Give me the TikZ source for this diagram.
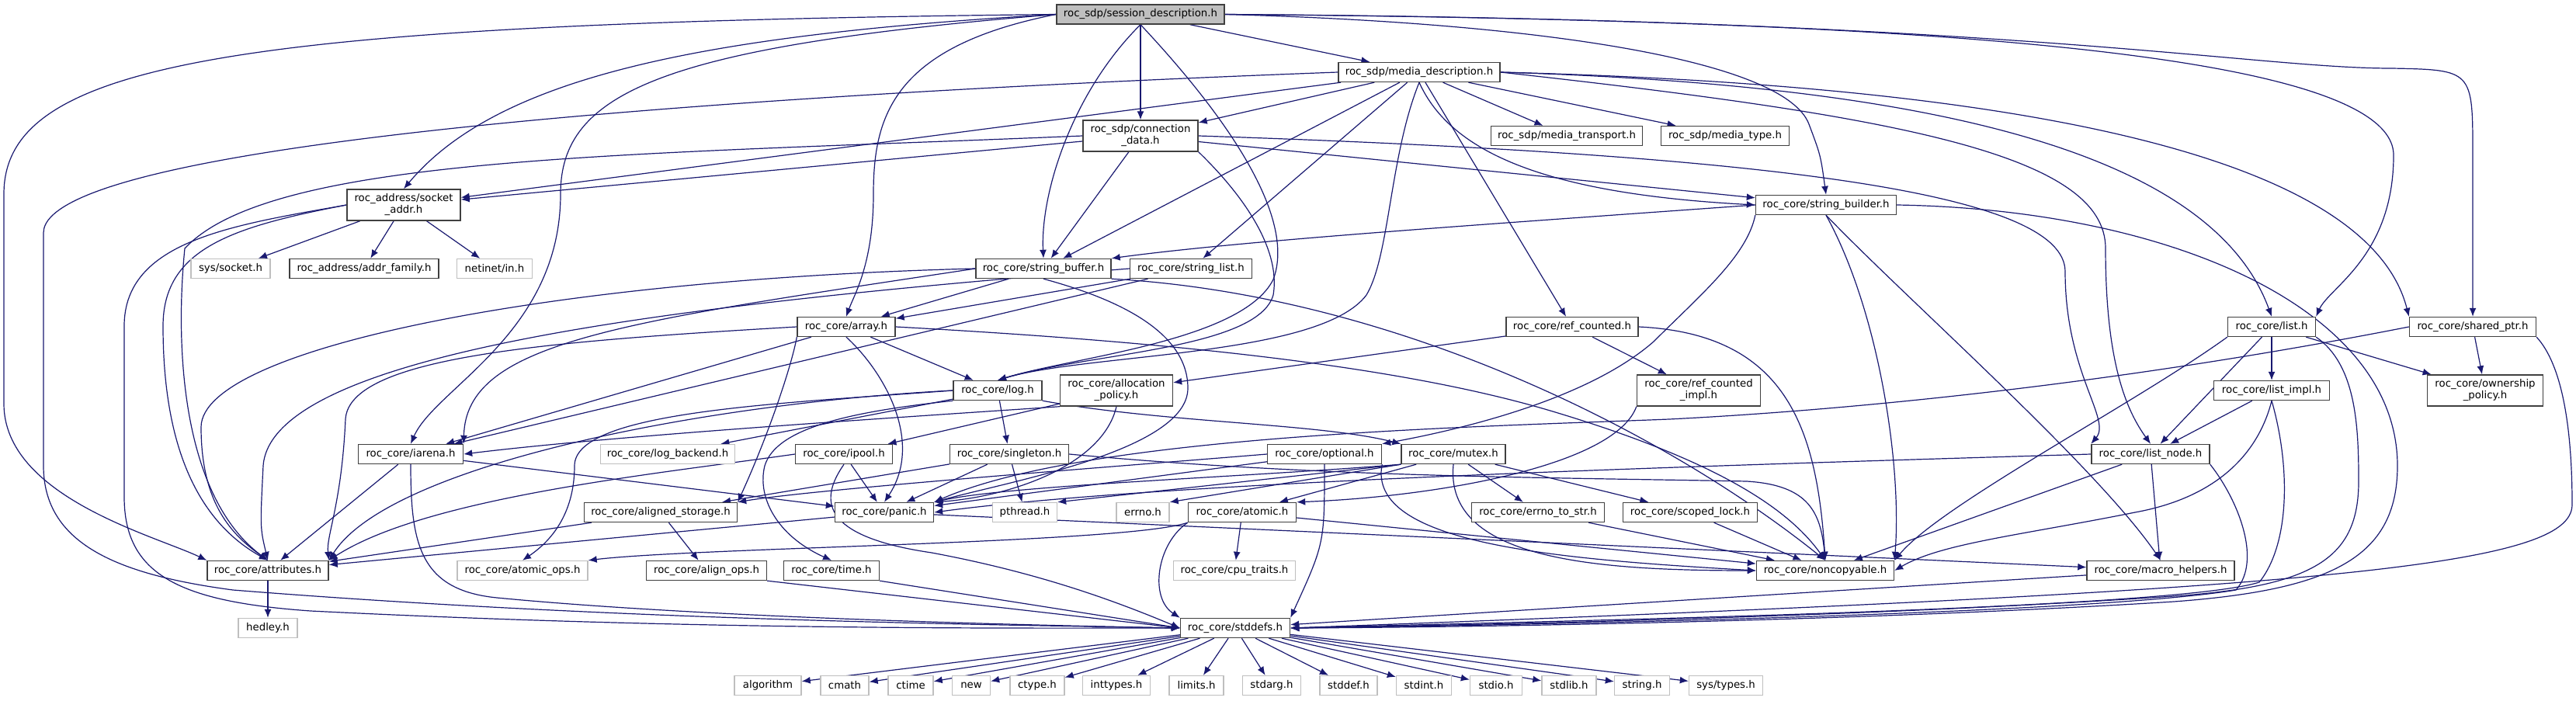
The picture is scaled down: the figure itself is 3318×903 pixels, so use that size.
\documentclass[tikz,border=0pt]{standalone}
\usepackage{fontspec}
\usetikzlibrary{arrows.meta}
\newfontfamily\nf{DejaVu Sans}
\definecolor{navy}{HTML}{191970}
\definecolor{sgray}{HTML}{BFBFBF}
\pgfdeclarelayer{background}
\pgfsetlayers{background,main}
\tikzset{
  n/.style={draw=black!75, fill=white, line width=0.7pt, rectangle, inner sep=0pt,
            minimum height=12.5pt, align=center, font={\nf\fontsize{6.65}{7.5}\selectfont}},
  n2/.style={n, minimum height=20pt},
  g/.style={n, draw=sgray},
  top/.style={n, fill=sgray},
  e/.style={draw=navy, line width=0.6pt, -{Latex[length=5.5pt,width=4.5pt]}},
}
\begin{document}
\begin{tikzpicture}[x=0.5pt,y=-0.5pt]
\useasboundingbox (0,0) rectangle (3318,903);
% ---- nodes ----
\node[top, minimum width=108pt] (session) at (1469,18.5) {roc\_sdp/session\_description.h};
\node[n, minimum width=104pt] (media) at (1828,93) {roc\_sdp/media\_description.h};
\node[n2, minimum width=74pt] (conn) at (1469,175) {roc\_sdp/connection\\\_data.h};
\node[n, minimum width=97.5pt] (mtransport) at (2018,175) {roc\_sdp/media\_transport.h};
\node[n, minimum width=82.5pt] (mtype) at (2222,175) {roc\_sdp/media\_type.h};
\node[n2, minimum width=73pt] (socket) at (520,264) {roc\_address/socket\\\_addr.h};
\node[n, minimum width=90.5pt] (sbuilder) at (2352,264) {roc\_core/string\_builder.h};
\node[g, minimum width=51pt] (syssocket) at (297,346) {sys/socket.h};
\node[n, minimum width=96pt] (addrfamily) at (469,346) {roc\_address/addr\_family.h};
\node[g, minimum width=48.5pt] (netinet) at (637,346) {netinet/in.h};
\node[n, minimum width=87pt] (sbuffer) at (1344,346) {roc\_core/string\_buffer.h};
\node[n, minimum width=78.5pt] (slist) at (1534,346) {roc\_core/string\_list.h};
\node[n, minimum width=63pt] (array) at (1090,421) {roc\_core/array.h};
\node[n, minimum width=85pt] (refc) at (2025,421) {roc\_core/ref\_counted.h};
\node[n, minimum width=56.5pt] (list) at (2926,421) {roc\_core/list.h};
\node[n, minimum width=81.5pt] (sharedptr) at (3185,421) {roc\_core/shared\_ptr.h};
\node[n, minimum width=57pt] (log) at (1285,503) {roc\_core/log.h};
\node[n2, minimum width=72.5pt] (alloc) at (1438,503) {roc\_core/allocation\\\_policy.h};
\node[n2, minimum width=79.5pt] (refcimpl) at (2188,503) {roc\_core/ref\_counted\\\_impl.h};
\node[n, minimum width=74.5pt] (listimpl) at (2926,503) {roc\_core/list\_impl.h};
\node[n2, minimum width=74.5pt] (ownership) at (3201,503) {roc\_core/ownership\\\_policy.h};
\node[n, minimum width=67.5pt] (iarena) at (529,585) {roc\_core/iarena.h};
\node[g, minimum width=86.5pt] (logbackend) at (860,585) {roc\_core/log\_backend.h};
\node[n, minimum width=62.5pt] (ipool) at (1087,585) {roc\_core/ipool.h};
\node[n, minimum width=76.5pt] (singleton) at (1300,585) {roc\_core/singleton.h};
\node[n, minimum width=73.5pt] (optional) at (1706,585) {roc\_core/optional.h};
\node[n, minimum width=67pt] (mutex) at (1872,585) {roc\_core/mutex.h};
\node[n, minimum width=76pt] (listnode) at (2770,585) {roc\_core/list\_node.h};
\node[n, minimum width=98.5pt] (alignedst) at (851,660) {roc\_core/aligned\_storage.h};
\node[n, minimum width=63.5pt] (panic) at (1139,660) {roc\_core/panic.h};
\node[g, minimum width=41.5pt] (pthread) at (1320,660) {pthread.h};
\node[g, minimum width=34pt] (errno) at (1472,660) {errno.h};
\node[n, minimum width=69.5pt] (atomic) at (1600,660) {roc\_core/atomic.h};
\node[n, minimum width=85.5pt] (errnotostr) at (1981,660) {roc\_core/errno\_to\_str.h};
\node[n, minimum width=86.5pt] (scopedlock) at (2177,660) {roc\_core/scoped\_lock.h};
\node[n, minimum width=78pt] (attributes) at (345,735) {roc\_core/attributes.h};
\node[g, minimum width=84pt] (atomicops) at (673,735) {roc\_core/atomic\_ops.h};
\node[n, minimum width=77.5pt] (alignops) at (910,735) {roc\_core/align\_ops.h};
\node[n, minimum width=61.5pt] (time) at (1071,735) {roc\_core/time.h};
\node[g, minimum width=78.5pt] (cpu) at (1590,735) {roc\_core/cpu\_traits.h};
\node[n, minimum width=88.5pt] (noncopy) at (2351,735) {roc\_core/noncopyable.h};
\node[n, minimum width=95pt] (macro) at (2783,735) {roc\_core/macro\_helpers.h};
\node[g, minimum width=38pt] (hedley) at (345,809) {hedley.h};
\node[n, minimum width=70.5pt] (stddefs) at (1591,809) {roc\_core/stddefs.h};
\node[g, minimum width=43pt] (algorithm) at (989,883) {algorithm};
\node[g, minimum width=31pt] (cmath) at (1088,883) {cmath};
\node[g, minimum width=29pt] (ctime) at (1173,883) {ctime};
\node[g, minimum width=24.5pt] (new) at (1251,883) {new};
\node[g, minimum width=35pt] (ctype) at (1336,883) {ctype.h};
\node[g, minimum width=43.5pt] (inttypes) at (1438,883) {inttypes.h};
\node[g, minimum width=35pt] (limits) at (1541,883) {limits.h};
\node[g, minimum width=37.5pt] (stdarg) at (1638,883) {stdarg.h};
\node[g, minimum width=37pt] (stddef) at (1737,883) {stddef.h};
\node[g, minimum width=35.5pt] (stdint) at (1834,883) {stdint.h};
\node[g, minimum width=33.5pt] (stdio) at (1927,883) {stdio.h};
\node[g, minimum width=35pt] (stdlib) at (2021,883) {stdlib.h};
\node[g, minimum width=35.5pt] (stringh) at (2115,883) {string.h};
\node[g, minimum width=47.5pt] (systypes) at (2223,883) {sys/types.h};
\begin{pgfonlayer}{background}
% ---- session ----
\draw[e] (session) -- (media);
\draw[e] (session) -- (conn);
\draw[e] (session.east) .. controls (2000,30) and (2300,80) .. (2330,160) .. controls (2345,200) .. (sbuilder.north);
\draw[e] (session.south) .. controls (1380,120) and (1340,250) .. (sbuffer.north);
\draw[e] (session.west) .. controls (1150,60) and (1125,150) .. (1125,250) .. controls (1125,340) and (1100,380) .. (array.north);
\draw[e] (session.west) .. controls (850,60) and (722,120) .. (722,250) .. controls (722,430) and (560,500) .. (iarena.north);
\draw[e] (session.west) .. controls (900,45) and (640,100) .. (socket.north);
\draw[e] (session.west) .. controls (300,30) and (5,80) .. (5,250) -- (5,520) .. controls (5,640) and (200,690) .. (attributes.north west);
\draw[e] (session.south) .. controls (1580,150) and (1670,280) .. (1640,360) .. controls (1600,440) and (1380,460) .. (log.north);
\draw[e] (session.east) .. controls (2400,25) and (3083,60) .. (3083,200) .. controls (3083,330) and (3000,370) .. (list.north east);
\draw[e] (session.east) .. controls (2600,25) and (2900,88) .. (3080,88) .. controls (3185,90) .. (3185,200) -- (sharedptr.north);
% ---- media ----
\draw[e] (media) -- (mtransport);
\draw[e] (media) -- (mtype);
\draw[e] (media) -- (conn);
\draw[e] (media.south) .. controls (1870,200) and (2000,250) .. (sbuilder.west);
\draw[e] (media) -- (sbuffer);
\draw[e] (media) -- (slist);
\draw[e] (media.south) .. controls (1790,200) and (1790,330) .. (1760,380) .. controls (1700,460) and (1400,455) .. (log.north);
\draw[e] (media) -- (refc);
\draw[e] (media.east) .. controls (2500,110) and (2850,200) .. (list.north);
\draw[e] (media.east) .. controls (2600,110) and (3050,200) .. (sharedptr.north west);
\draw[e] (media.east) .. controls (2450,150) and (2712,200) .. (2712,320) .. controls (2712,470) and (2740,530) .. (listnode.north);
\draw[e] (media) -- (socket);
\draw[e] (media.west) .. controls (1000,120) and (56,180) .. (56,300) -- (56,600) .. controls (56,700) and (150,740) .. (300,760) .. controls (800,800) and (1300,805) .. (stddefs.west);
% ---- connection data ----
\draw[e] (conn) -- (socket);
\draw[e] (conn.west) .. controls (800,200) and (350,200) .. (238,320) .. controls (225,450) and (235,640) .. (attributes.north);
\draw[e] (conn) -- (sbuffer);
\draw[e] (conn) -- (sbuilder);
\draw[e] (conn.south east) .. controls (1600,250) and (1650,320) .. (1640,380) .. controls (1620,450) and (1400,455) .. (log.north);
\draw[e] (conn.east) .. controls (2300,200) and (2660,250) .. (2660,350) .. controls (2660,480) and (2720,540) .. (listnode.north west);
% ---- socket addr ----
\draw[e] (socket) -- (syssocket);
\draw[e] (socket) -- (addrfamily);
\draw[e] (socket) -- (netinet);
\draw[e] (socket.west) .. controls (300,292) and (210,320) .. (210,420) .. controls (210,600) and (270,680) .. (attributes.north);
\draw[e] (socket.west) .. controls (300,290) and (160,310) .. (160,420) -- (160,640) .. controls (160,740) and (230,775) .. (400,787) .. controls (900,812) and (1300,809) .. (stddefs.west);
% ---- string builder ----
\draw[e] (sbuilder.west) .. controls (1900,290) and (1600,310) .. (sbuffer.north east);
\draw[e] (sbuilder.south west) .. controls (2250,330) and (2190,380) .. (2130,440) .. controls (2050,510) and (1900,550) .. (optional.north east);
\draw[e] (sbuilder.south) .. controls (2420,400) and (2450,600) .. (noncopy.north east);
\draw[e] (sbuilder.south) .. controls (2450,380) and (2700,600) .. (macro.north);
\draw[e] (sbuilder.east) .. controls (2800,270) and (3088,400) .. (3088,600) .. controls (3088,720) and (3000,760) .. (2800,775) .. controls (2400,800) and (1900,808) .. (stddefs.east);
% ---- string buffer / list ----
\draw[e] (sbuffer) -- (array);
\draw[e] (sbuffer.west) .. controls (700,360) and (260,450) .. (259,550) .. controls (259,650) and (300,690) .. (attributes.north);
\draw[e] (sbuffer.west) .. controls (800,415) and (600,440) .. (iarena.north east);
\draw[e] (sbuffer.south) .. controls (1420,380) and (1530,420) .. (1530,500) .. controls (1530,580) and (1300,620) .. (panic.north east);
\draw[e] (sbuffer.south east) .. controls (1800,380) and (2150,560) .. (noncopy.north);
\draw[e] (slist) -- (array);
\draw[e] (slist) -- (iarena);
\draw[e] (slist.west) .. controls (900,390) and (350,450) .. (339,600) .. controls (335,680) .. (attributes.north);
% ---- array ----
\draw[e] (array) -- (log);
\draw[e] (array.south west) .. controls (1020,470) and (990,560) .. (alignedst.north east);
\draw[e] (array.south) .. controls (1140,480) and (1190,570) .. (panic.north);
\draw[e] (array) -- (iarena);
\draw[e] (array.west) .. controls (700,440) and (450,460) .. (445,540) .. controls (440,650) and (420,690) .. (attributes.north east);
\draw[e] (array.east) .. controls (1500,440) and (1800,470) .. (2000,530) .. controls (2200,590) and (2300,650) .. (noncopy.north);
% ---- log ----
\draw[e] (log) -- (logbackend);
\draw[e] (log) -- (singleton);
\draw[e] (log.south east) .. controls (1500,545) and (1700,545) .. (mutex.north west);
\draw[e] (log.south west) .. controls (1100,530) and (1000,550) .. (985,600) .. controls (975,640) and (1000,690) .. (time.north);
\draw[e] (log.west) .. controls (1000,520) and (740,530) .. (740,600) .. controls (740,650) and (720,690) .. (atomicops.north);
\draw[e] (log.west) .. controls (900,520) and (500,600) .. (attributes.north east);
% ---- singleton, ipool, allocation policy ----
\draw[e] (singleton) -- (alignedst);
\draw[e] (singleton) -- (panic);
\draw[e] (singleton) -- (pthread);
\draw[e] (singleton.east) .. controls (1700,615) and (2000,615) .. (2250,620) .. controls (2330,625) and (2345,660) .. (noncopy.north);
\draw[e] (ipool.west) .. controls (850,610) and (550,640) .. (attributes.north east);
\draw[e] (ipool) -- (panic);
\draw[e] (ipool.south) .. controls (1058,640) and (1050,690) .. (1200,712) .. controls (1350,740) and (1450,780) .. (stddefs.west);
\draw[e] (alloc.south west) .. controls (1200,535) and (800,560) .. (iarena.east);
\draw[e] (alloc) -- (ipool);
\draw[e] (alloc.south) .. controls (1420,600) and (1300,640) .. (panic.north east);
% ---- ref counted ----
\draw[e] (refc) -- (alloc);
\draw[e] (refc) -- (refcimpl);
\draw[e] (refc.east) .. controls (2300,430) and (2340,550) .. (noncopy.north);
\draw[e] (refcimpl.south west) .. controls (2080,600) and (1850,640) .. (atomic.north east);
% ---- list, shared ptr ----
\draw[e] (list) -- (listnode);
\draw[e] (list) -- (listimpl);
\draw[e] (list) -- (ownership);
\draw[e] (list.south west) .. controls (2750,520) and (2500,650) .. (noncopy.north east);
\draw[e] (list.south east) .. controls (3035,470) and (3038,550) .. (3038,620) .. controls (3038,720) and (2980,755) .. (2800,768) .. controls (2400,795) and (1900,805) .. (stddefs.east);
\draw[e] (sharedptr) -- (ownership);
\draw[e] (sharedptr.south east) .. controls (3300,470) and (3313,550) .. (3313,650) .. controls (3313,730) and (3000,760) .. (stddefs.east);
\draw[e] (sharedptr.west) .. controls (2700,500) and (2350,530) .. (2150,540) .. controls (1900,550) and (1400,560) .. (panic.north east);
\draw[e] (listimpl) -- (listnode);
\draw[e] (listimpl.south) .. controls (2910,580) and (2860,640) .. (2750,660) .. controls (2600,690) and (2500,700) .. (noncopy.east);
\draw[e] (listimpl.south) .. controls (2950,600) and (2950,700) .. (2910,750) .. controls (2800,785) and (2000,800) .. (stddefs.east);
\draw[e] (listnode.west) .. controls (2200,600) and (1500,620) .. (panic.east);
\draw[e] (listnode) -- (noncopy);
\draw[e] (listnode) -- (macro);
\draw[e] (listnode.south east) .. controls (2880,640) and (2915,720) .. (2880,760) .. controls (2700,790) and (2000,805) .. (stddefs.east);
% ---- optional, mutex ----
\draw[e] (optional.west) .. controls (1450,600) and (1050,630) .. (alignedst.north east);
\draw[e] (optional) -- (panic);
\draw[e] (optional.south east) .. controls (1760,700) and (2000,720) .. (noncopy.west);
\draw[e] (optional.south) .. controls (1706,700) .. (stddefs.north east);
\draw[e] (mutex) -- (atomic);
\draw[e] (mutex) -- (errnotostr);
\draw[e] (mutex) -- (scopedlock);
\draw[e] (mutex.south west) -- (errno.north east);
\draw[e] (mutex.south west) -- (pthread.north east);
\draw[e] (mutex.south west) .. controls (1600,615) and (1300,625) .. (panic.north east);
\draw[e] (mutex.south) .. controls (1860,720) and (2050,735) .. (noncopy.west);
% ---- atomic etc ----
\draw[e] (atomic.south west) .. controls (1450,700) and (900,705) .. (atomicops.north east);
\draw[e] (atomic) -- (cpu);
\draw[e] (atomic.south west) .. controls (1490,700) and (1480,770) .. (stddefs.north west);
\draw[e] (atomic) -- (noncopy);
\draw[e] (errnotostr) -- (noncopy);
\draw[e] (scopedlock) -- (noncopy);
\draw[e] (alignedst) -- (alignops);
\draw[e] (alignedst) -- (attributes);
\draw[e] (alignops.south east) -- (stddefs.west);
\draw[e] (time.south east) -- (stddefs.west);
\draw[e] (panic) -- (attributes);
\draw[e] (panic) -- (macro);
\draw[e] (iarena) -- (attributes);
\draw[e] (iarena) -- (panic);
\draw[e] (iarena.south) .. controls (529,700) and (540,760) .. (640,770) .. controls (900,795) and (1300,805) .. (stddefs.west);
\draw[e] (macro) -- (stddefs);
\draw[e] (attributes) -- (hedley);
% ---- stddefs leaves ----
\foreach \t in {algorithm,cmath,ctime,new,ctype,inttypes,limits,stdarg,stddef,stdint,stdio,stdlib,stringh,systypes}
  \draw[e] (stddefs) -- (\t);
\end{pgfonlayer}
\end{tikzpicture}
\end{document}
